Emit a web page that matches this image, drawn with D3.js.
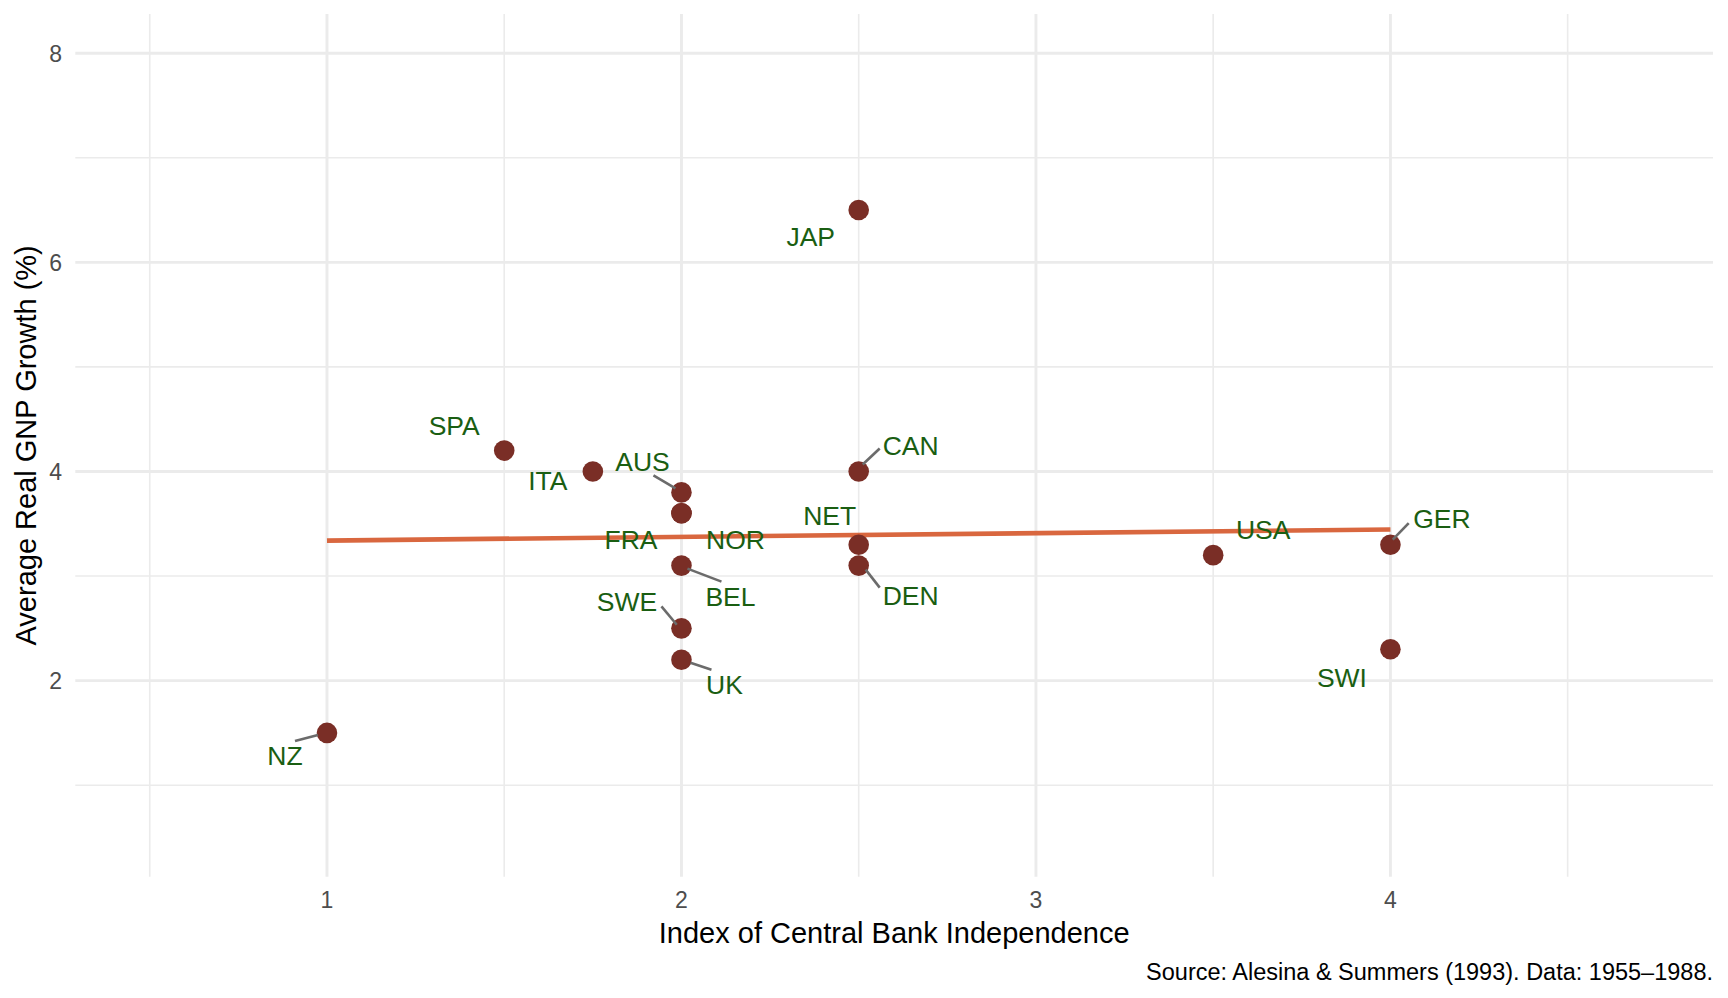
<!DOCTYPE html>
<html>
<head>
<meta charset="utf-8">
<script src="https://cdn.jsdelivr.net/npm/d3@7"></script>
<style>
  html, body { margin: 0; padding: 0; background: #fff; }
  svg { display: block; font-family: "Liberation Sans", Arial, Helvetica, sans-serif; }
</style>
</head>
<body>
<svg id="chart" width="1728" height="998"></svg>
<script>
// ---- data ----
const countries    = ["NZ","SPA","ITA","AUS","FRA","NOR","BEL","SWE","UK","JAP","CAN","NET","DEN","USA","GER","SWI"];
const independence = [1, 1.5, 1.75, 2, 2, 2, 2, 2, 2, 2.5, 2.5, 2.5, 2.5, 3.5, 4, 4];
const growth       = [1.5, 4.2, 4.0, 3.8, 3.6, 3.6, 3.1, 2.5, 2.2, 6.5, 4.0, 3.3, 3.1, 3.2, 3.3, 2.3];
const xMajorTicks  = [1, 2, 3, 4];
const xMinorTicks  = [0.5, 1.5, 2.5, 3.5, 4.5];
const yMajorTicks  = [2, 4, 6, 8];
const yMinorTicks  = [1, 3, 5, 7];
const xTitle = "Index of Central Bank Independence";
const yTitle = "Average Real GNP Growth (%)";
const caption = "Source: Alesina & Summers (1993). Data: 1955\u20131988.";

// repel-label layout (pixel offsets from each point): label centre, optional segment
const labelLayout = {
  NZ:  {dx:-42,  dy:23,   seg:[-32, 8, -9, 2]},
  SPA: {dx:-50,  dy:-25},
  ITA: {dx:-45,  dy:9.5},
  AUS: {dx:-39,  dy:-31,  seg:[-28,-17, -6,-4]},
  FRA: {dx:-50.5,dy:26.5},
  NOR: {dx:54,   dy:26.5},
  BEL: {dx:49,   dy:31,   seg:[40, 16, 6, 3]},
  SWE: {dx:-54.5,dy:-26.5,seg:[-20,-22, -4.7,-3.6]},
  UK:  {dx:43,   dy:25,   seg:[30, 10, 9, 3]},
  JAP: {dx:-48,  dy:26},
  CAN: {dx:52,   dy:-26,  seg:[21,-23, 4,-7]},
  NET: {dx:-29,  dy:-29.5},
  DEN: {dx:52,   dy:30,   seg:[21, 22, 7, 4]},
  USA: {dx:50,   dy:-26},
  GER: {dx:51.5, dy:-26.5,seg:[18.3,-21.6, 2.3,-5]},
  SWI: {dx:-48.5,dy:28}
};

const data = countries.map((c, i) => ({ name: c, x: independence[i], y: growth[i] }));

// ---- layout ----
const panel = { left: 75.3, right: 1713, top: 14, bottom: 876.7 };
const x = d3.scaleLinear().domain([0.29, 4.91]).range([panel.left, panel.right]);
const y = d3.scaleLinear().domain([0.125, 8.375]).range([panel.bottom, panel.top]);

const svg = d3.select("#chart");
const grid = svg.append("g");
const gridColor = "#ebebeb";

// minor grid
grid.selectAll("line.xminor").data(xMinorTicks).join("line")
  .attr("x1", d => x(d)).attr("x2", d => x(d))
  .attr("y1", panel.top).attr("y2", panel.bottom)
  .attr("stroke", gridColor).attr("stroke-width", 1.6);
grid.selectAll("line.yminor").data(yMinorTicks).join("line")
  .attr("y1", d => y(d)).attr("y2", d => y(d))
  .attr("x1", panel.left).attr("x2", panel.right)
  .attr("stroke", gridColor).attr("stroke-width", 1.6);
// major grid
grid.selectAll("line.xmajor").data(xMajorTicks).join("line")
  .attr("x1", d => x(d)).attr("x2", d => x(d))
  .attr("y1", panel.top).attr("y2", panel.bottom)
  .attr("stroke", gridColor).attr("stroke-width", 2.9);
grid.selectAll("line.ymajor").data(yMajorTicks).join("line")
  .attr("y1", d => y(d)).attr("y2", d => y(d))
  .attr("x1", panel.left).attr("x2", panel.right)
  .attr("stroke", gridColor).attr("stroke-width", 2.9);

// tick labels
svg.append("g").selectAll("text").data(xMajorTicks).join("text")
  .attr("x", d => x(d)).attr("y", 908)
  .attr("text-anchor", "middle").attr("font-size", 23).attr("fill", "#4d4d4d")
  .text(d => d);
svg.append("g").selectAll("text").data(yMajorTicks).join("text")
  .attr("x", 62).attr("y", d => y(d) + 8.3)
  .attr("text-anchor", "end").attr("font-size", 23).attr("fill", "#4d4d4d")
  .text(d => d);

// axis titles
svg.append("text")
  .attr("x", (panel.left + panel.right) / 2).attr("y", 943)
  .attr("text-anchor", "middle").attr("font-size", 29).attr("fill", "#000")
  .text(xTitle);
svg.append("text")
  .attr("transform", `translate(36,${(panel.top + panel.bottom) / 2}) rotate(-90)`)
  .attr("text-anchor", "middle").attr("font-size", 29).attr("fill", "#000")
  .text(yTitle);

// caption
svg.append("text")
  .attr("x", panel.right).attr("y", 980)
  .attr("text-anchor", "end").attr("font-size", 23.5).attr("fill", "#000")
  .text(caption);

// linear regression (lm)
const mx = d3.mean(data, d => d.x), my = d3.mean(data, d => d.y);
const sxy = d3.sum(data, d => (d.x - mx) * (d.y - my));
const sxx = d3.sum(data, d => (d.x - mx) ** 2);
const slope = sxy / sxx, intercept = my - slope * mx;
const xr = d3.extent(data, d => d.x);
const fit = xr.map(v => ({ x: v, y: intercept + slope * v }));
svg.append("path").datum(fit)
  .attr("d", d3.line().x(d => x(d.x)).y(d => y(d.y)))
  .attr("fill", "none").attr("stroke", "#d9673f").attr("stroke-width", 4.6);

// points
svg.append("g").selectAll("circle").data(data).join("circle")
  .attr("cx", d => x(d.x)).attr("cy", d => y(d.y)).attr("r", 10.3)
  .attr("fill", "#7a2e26");

// segments
svg.append("g").selectAll("line").data(data.filter(d => labelLayout[d.name].seg)).join("line")
  .attr("x1", d => x(d.x) + labelLayout[d.name].seg[0])
  .attr("y1", d => y(d.y) + labelLayout[d.name].seg[1])
  .attr("x2", d => x(d.x) + labelLayout[d.name].seg[2])
  .attr("y2", d => y(d.y) + labelLayout[d.name].seg[3])
  .attr("stroke", "#6b6b6b").attr("stroke-width", 2.6);

// labels
svg.append("g").selectAll("text").data(data).join("text")
  .attr("x", d => x(d.x) + labelLayout[d.name].dx)
  .attr("y", d => y(d.y) + labelLayout[d.name].dy + 9.5)
  .attr("text-anchor", "middle").attr("font-size", 26.5).attr("fill", "#1a5e12")
  .text(d => d.name);
</script>
</body>
</html>
